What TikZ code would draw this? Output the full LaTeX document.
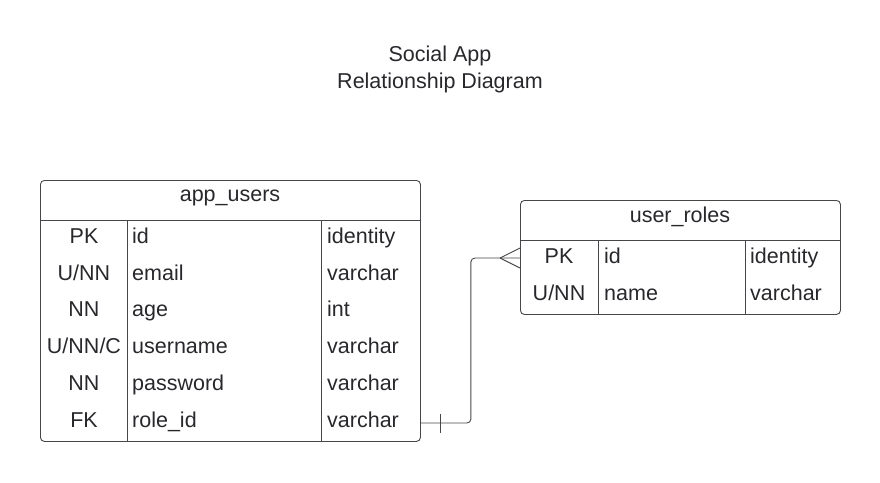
\documentclass[tikz,border=0pt]{standalone}
\usepackage{fontspec}
\setmainfont{Liberation Sans}
\usetikzlibrary{positioning, calc}
\definecolor{linecol}{RGB}{70,70,74}
\definecolor{textcol}{RGB}{40,40,44}
\begin{document}
\begin{tikzpicture}[x=1pt, y=-1pt, font=\fontsize{21.5}{26}\selectfont, text=textcol]
                \tikzset{tbl/.style = {draw=linecol, line width=0.9pt, rounded corners=4pt, inner sep=0pt, anchor=north west}}
                \tikzset{sep/.style = {draw=linecol, line width=0.8pt}}
                \tikzset{keycell/.style = {anchor=base, inner sep=0pt}}
                \tikzset{cell/.style = {anchor=base west, inner sep=0pt}}
                \tikzset{rel/.style = {draw=linecol, line width=0.9pt, rounded corners=4pt}}

                \useasboundingbox (0,0) rectangle (880,482);

                % title
                \node (title1) at (440,56) {Social App};
                \node (title2) at (440,83) {Relationship Diagram};

                % app_users
                \node[tbl, minimum width=380pt, minimum height=261pt] (appusers) at (40,180) {};
                \node (appusershead) at (230,198) {app\_users};
                \draw[sep] (40,220) -- (420,220);
                \draw[sep] (127,220) -- (127,441);
                \draw[sep] (321,220) -- (321,441);
                \foreach \key/\col/\typ [count=\i] in {PK/id/identity, {U/NN}/email/varchar, NN/age/int,
                    {U/NN/C}/username/varchar, NN/password/varchar, FK/role\_id/varchar} {
                    \node[keycell] (ukey\i) at (84,{206.5+36.8*\i}) {\key};
                    \node[cell] (ucol\i) at (132,{206.5+36.8*\i}) {\col};
                    \node[cell] (utyp\i) at (327,{206.5+36.8*\i}) {\typ};
                }

                % user_roles
                \node[tbl, minimum width=320pt, minimum height=114pt] (userroles) at (520,200) {};
                \node (userroleshead) at (680,217) {user\_roles};
                \draw[sep] (520,240) -- (840,240);
                \draw[sep] (598,240) -- (598,314);
                \draw[sep] (745,240) -- (745,314);
                \foreach \key/\col/\typ [count=\i] in {PK/id/identity, {U/NN}/name/varchar} {
                    \node[keycell] (rkey\i) at (559,{226.5+36.8*\i}) {\key};
                    \node[cell] (rcol\i) at (604,{226.5+36.8*\i}) {\col};
                    \node[cell] (rtyp\i) at (750,{226.5+36.8*\i}) {\typ};
                }

                % relationship
                \coordinate (fkend) at (appusers.east |- 0,423);
                \coordinate (roleend) at (userroles.west |- 0,258);
                \draw[rel] (fkend) -- ++(50,0) |- (roleend);
                \draw[rel] ($(fkend)+(20,-9)$) -- ($(fkend)+(20,10)$);
                \draw[rel] ($(roleend)+(-20,0)$) -- ($(roleend)+(0,-10)$);
                \draw[rel] ($(roleend)+(-20,0)$) -- ($(roleend)+(0,10)$);

                \end{tikzpicture}
\end{document}
